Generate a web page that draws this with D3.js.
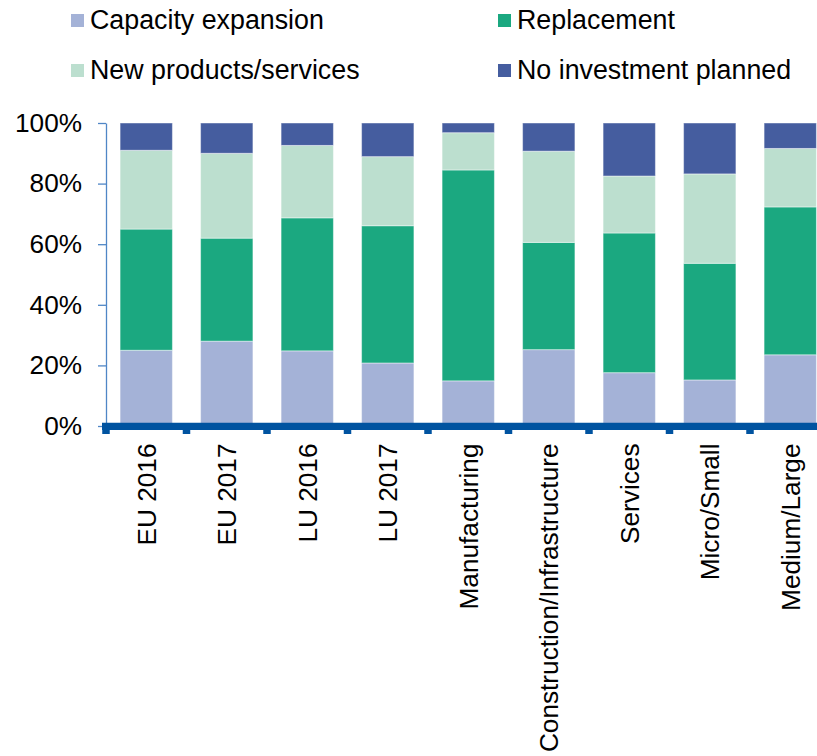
<!DOCTYPE html>
<html>
<head>
<meta charset="utf-8">
<script src="https://cdn.jsdelivr.net/npm/d3@7"></script>
<style>
  html, body { margin: 0; padding: 0; background: #ffffff; }
  svg { display: block; font-family: "Liberation Sans", Arial, sans-serif; }
</style>
</head>
<body>
<svg id="chart" width="817" height="756"></svg>
<script>
// Categories along the x axis
const categories = ["EU 2016", "EU 2017", "LU 2016", "LU 2017", "Manufacturing",
  "Construction/Infrastructure", "Services", "Micro/Small", "Medium/Large"];

// Series (share of firms, %)
const seriesNames = ["Capacity expansion", "Replacement", "New products/services", "No investment planned"];
const capacityExpansion = [25.0, 28.0, 24.8, 20.8, 14.9, 25.2, 17.6, 15.2, 23.5];
const replacement       = [40.0, 34.0, 43.9, 45.3, 69.6, 35.4, 46.1, 38.5, 48.8];
const newProducts       = [26.0, 28.0, 23.9, 22.8, 12.3, 30.1, 18.8, 29.5, 19.3];
const noInvestment      = [ 9.0, 10.0,  7.4, 11.1,  3.2,  9.3, 17.5, 16.8,  8.4];

const yTickValues = [0, 0.2, 0.4, 0.6, 0.8, 1.0];
const yTickLabels = ["0%", "20%", "40%", "60%", "80%", "100%"];

const colors = ["#a4b2d7", "#1ba880", "#bcdfcf", "#455d9f"];
const AXIS_FONT = 26.2;
const LEGEND_FONT = 26.8;

const svg = d3.select("#chart");

// Table for the stack layout
const rows = categories.map((c, i) => ({
  cat: c,
  "Capacity expansion": capacityExpansion[i],
  "Replacement": replacement[i],
  "New products/services": newProducts[i],
  "No investment planned": noInvestment[i]
}));

const stack = d3.stack().keys(seriesNames);
const layers = stack(rows);

const x = d3.scaleBand()
  .domain(categories)
  .range([106, 830.5])
  .paddingInner(0.35)
  .paddingOuter(0.175);

const y = d3.scaleLinear().domain([0, 100]).range([426, 123]);
const yAxisScale = d3.scaleLinear().domain([0, 1]).range([426, 123]);

// Stacked bars
svg.append("g").selectAll("g")
  .data(layers)
  .join("g")
  .attr("fill", (d, i) => colors[i])
  .selectAll("rect")
  .data(d => d)
  .join("rect")
  .attr("x", d => x(d.data.cat))
  .attr("width", x.bandwidth())
  .attr("y", d => y(d[1]))
  .attr("height", d => y(d[0]) - y(d[1]))
  .attr("stroke", "rgba(255,255,255,0.45)")
  .attr("stroke-width", 1);

// Y axis
const yAxis = d3.axisLeft(yAxisScale)
  .tickValues(yTickValues)
  .tickFormat((d, i) => yTickLabels[i])
  .tickSize(8)
  .tickSizeOuter(0)
  .tickPadding(16);

const gy = svg.append("g").attr("transform", "translate(106,0)").call(yAxis);
gy.select(".domain").attr("stroke", "#4f86c6").attr("stroke-width", 1.3);
gy.selectAll(".tick line").attr("stroke", "#4f86c6").attr("stroke-width", 1.3);
gy.selectAll(".tick text")
  .attr("font-size", AXIS_FONT)
  .attr("fill", "#000")
  .attr("font-family", "Liberation Sans, Arial, sans-serif");

// X axis: thick baseline with ticks at the band boundaries
const step = x.step();
const x0 = x.range()[0];
const boundaries = d3.range(categories.length + 1).map(i => x0 + i * step);

svg.append("g").selectAll("line")
  .data(boundaries)
  .join("line")
  .attr("x1", d => d).attr("x2", d => d)
  .attr("y1", y(0)).attr("y2", y(0) + 8)
  .attr("stroke", "#0053a0")
  .attr("stroke-width", 7.5);

svg.append("line")
  .attr("x1", x0 - 4).attr("x2", 817)
  .attr("y1", y(0) + 0.3).attr("y2", y(0) + 0.3)
  .attr("stroke", "#0053a0")
  .attr("stroke-width", 7.3);

// Category labels, rotated
const xAxis = d3.axisBottom(x).tickSize(0).tickSizeOuter(0);
const gx = svg.append("g").attr("transform", `translate(0,${y(0)})`).call(xAxis);
gx.select(".domain").remove();
gx.selectAll(".tick text")
  .attr("font-size", AXIS_FONT)
  .attr("fill", "#000")
  .attr("font-family", "Liberation Sans, Arial, sans-serif")
  .attr("text-anchor", "end")
  .attr("transform", "translate(0,17.5) rotate(-90)")
  .attr("x", 0)
  .attr("y", 0)
  .attr("dy", "0.36em");

// Legend
const legendPos = [
  { x: 71, y: 14 }, { x: 498, y: 14 },
  { x: 71, y: 64 }, { x: 498, y: 64 }
];
const legend = svg.append("g").selectAll("g")
  .data(seriesNames)
  .join("g")
  .attr("transform", (d, i) => `translate(${legendPos[i].x},${legendPos[i].y})`);

legend.append("rect")
  .attr("width", 13).attr("height", 13)
  .attr("fill", (d, i) => colors[i]);

legend.append("text")
  .attr("x", 19)
  .attr("y", 15)
  .attr("font-size", LEGEND_FONT)
  .attr("fill", "#000")
  .text(d => d);
</script>
</body>
</html>
